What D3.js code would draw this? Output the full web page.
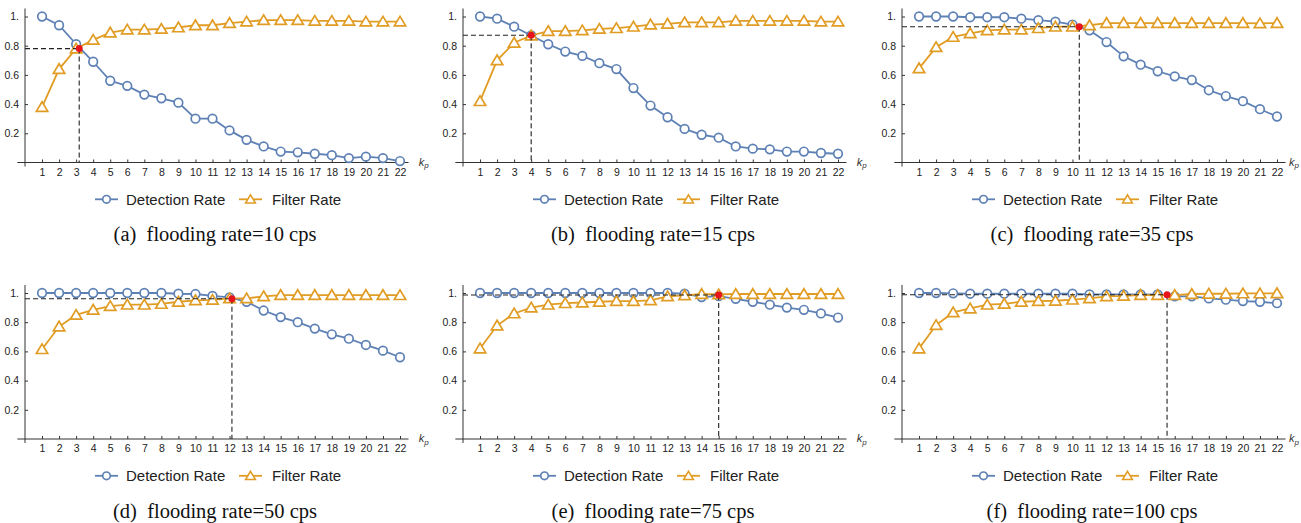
<!DOCTYPE html>
<html><head><meta charset="utf-8">
<script src="https://cdn.jsdelivr.net/npm/d3@7"></script>
<style>
body{margin:0;background:#fff;}
svg{display:block;}
</style></head>
<body>
<svg id="chart" width="1301" height="523"></svg>
<script>
const ks = d3.range(1, 23);
const yTicks = [0.2, 0.4, 0.6, 0.8, 1.0];
const panelLabels = ["a", "b", "c", "d", "e", "f"];
const floodingRates = [10, 15, 35, 50, 75, 100];
const seriesNames = ["Detection Rate", "Filter Rate"];

const detectionA = [1.0,0.94,0.81,0.69,0.56,0.525,0.465,0.44,0.41,0.30,0.30,0.22,0.155,0.11,0.075,0.07,0.06,0.05,0.03,0.04,0.03,0.01];
const filterA    = [0.38,0.64,0.78,0.84,0.89,0.91,0.91,0.915,0.925,0.94,0.94,0.955,0.965,0.975,0.975,0.975,0.97,0.97,0.97,0.965,0.965,0.965];
const detectionB = [1.0,0.985,0.93,0.87,0.81,0.76,0.73,0.68,0.64,0.51,0.39,0.31,0.23,0.19,0.17,0.11,0.095,0.09,0.075,0.075,0.065,0.06];
const filterB    = [0.42,0.70,0.82,0.87,0.90,0.90,0.905,0.915,0.92,0.93,0.945,0.95,0.96,0.96,0.96,0.97,0.97,0.97,0.97,0.97,0.965,0.965];
const detectionC = [1.0,1.0,1.0,0.995,0.995,0.995,0.985,0.975,0.965,0.945,0.905,0.825,0.727,0.67,0.625,0.59,0.565,0.495,0.455,0.42,0.365,0.315];
const filterC    = [0.645,0.79,0.86,0.885,0.905,0.91,0.91,0.92,0.93,0.93,0.94,0.955,0.955,0.955,0.955,0.955,0.955,0.955,0.955,0.955,0.953,0.955];
const detectionD = [1.0,1.0,1.0,1.0,1.0,1.0,1.0,1.0,0.995,0.993,0.98,0.97,0.94,0.88,0.835,0.80,0.756,0.717,0.687,0.644,0.605,0.56];
const filterD    = [0.615,0.77,0.85,0.885,0.91,0.92,0.92,0.925,0.94,0.95,0.953,0.963,0.963,0.977,0.986,0.986,0.986,0.986,0.986,0.986,0.986,0.985];
const detectionE = [1.0,1.0,1.0,1.0,1.0,1.0,1.0,1.0,1.0,1.0,1.0,1.0,0.995,0.972,0.978,0.96,0.94,0.92,0.90,0.885,0.86,0.832];
const filterE    = [0.62,0.777,0.86,0.90,0.92,0.93,0.935,0.94,0.945,0.945,0.95,0.977,0.984,0.993,0.99,0.993,0.993,0.993,0.993,0.993,0.993,0.993];
const detectionF = [1.0,1.0,0.998,0.995,0.995,0.995,0.995,0.995,0.995,0.995,0.99,0.99,0.99,0.99,0.99,0.977,0.977,0.963,0.954,0.945,0.94,0.93];
const filterF    = [0.62,0.78,0.867,0.894,0.92,0.926,0.94,0.945,0.947,0.954,0.963,0.977,0.98,0.986,0.986,0.986,0.993,0.995,0.995,0.997,0.997,0.998];
const crossK     = [3.18, 4.0, 10.4, 12.14, 15.0, 15.55];
const crossRate  = [0.78, 0.872, 0.93, 0.961, 0.986, 0.988];

const detections = [detectionA, detectionB, detectionC, detectionD, detectionE, detectionF];
const filters = [filterA, filterB, filterC, filterD, filterE, filterF];

const blue = "#5E81B5", orange = "#E19C24";
const W = 1301;
const svg = d3.select("#chart");
const colOffsets = [0, 438, 877];
const rowOffsets = [0, 276.5];

const x = d3.scaleLinear().domain([0, 22]).range([25, 400]);
const y = d3.scaleLinear().domain([0, 1]).range([162.5, 16.5]);

const tri = "M0,-5.3L5.7,4.3L-5.7,4.3Z";
const sans = "Liberation Sans, Arial, sans-serif";

panelLabels.forEach((lab, i) => {
  const ox = colOffsets[i % 3];
  const g = svg.append("g")
    .attr("transform", `translate(${ox},${rowOffsets[Math.floor(i / 3)]})`);

  // axes
  const xAxis = d3.axisBottom(x).tickValues(ks).tickSizeInner(-3).tickSizeOuter(0).tickPadding(6);
  const gx = g.append("g").attr("transform", `translate(0,${y(0)})`).call(xAxis);
  gx.select(".domain").remove();
  gx.selectAll("text").attr("font-family", sans).attr("font-size", 10.5).attr("fill", "#222");
  gx.selectAll("line").attr("stroke", "#333");
  const yAxis = d3.axisLeft(y).tickValues(yTicks).tickSizeInner(-3).tickSizeOuter(0).tickPadding(6)
    .tickFormat(d => d === 1 ? "1." : d3.format(".1f")(d));
  const gy = g.append("g").attr("transform", `translate(${x(0)},0)`).call(yAxis);
  gy.select(".domain").remove();
  gy.selectAll("text").attr("font-family", sans).attr("font-size", 10.5).attr("fill", "#222");
  gy.selectAll("line").attr("stroke", "#333");

  g.append("line").attr("x1", x(-0.45)).attr("x2", x(22.5)).attr("y1", y(0)).attr("y2", y(0))
    .attr("stroke", "#333").attr("stroke-width", 1);
  g.append("line").attr("x1", x(0)).attr("x2", x(0)).attr("y1", y(1.055)).attr("y2", y(0) + 4)
    .attr("stroke", "#333").attr("stroke-width", 1);

  const kx = Math.min(x(23.1), W - 12 - ox);
  const kl = g.append("text").attr("x", kx).attr("y", y(0) + 3)
    .attr("font-family", sans).attr("font-size", 11).attr("fill", "#333")
    .attr("font-style", "italic");
  kl.append("tspan").text("k");
  kl.append("tspan").attr("font-size", 8).attr("dy", 2.5).text("p");

  const line = d3.line().x((d, j) => x(ks[j])).y(d => y(d));

  // detection
  g.append("path").datum(detections[i]).attr("d", line).attr("fill", "none")
    .attr("stroke", blue).attr("stroke-width", 1.8);
  g.selectAll(".c").data(detections[i]).join("circle").attr("class", "c")
    .attr("cx", (d, j) => x(ks[j])).attr("cy", d => y(d)).attr("r", 4.3)
    .attr("fill", "#fff").attr("stroke", blue).attr("stroke-width", 1.7);

  // filter
  g.append("path").datum(filters[i]).attr("d", line).attr("fill", "none")
    .attr("stroke", orange).attr("stroke-width", 1.8);
  g.selectAll(".t").data(filters[i]).join("path").attr("class", "t")
    .attr("transform", (d, j) => `translate(${x(ks[j])},${y(d)})`).attr("d", tri)
    .attr("fill", "#fff").attr("stroke", orange).attr("stroke-width", 1.7);

  // dashed guides
  g.append("line").attr("x1", x(0)).attr("x2", x(crossK[i])).attr("y1", y(crossRate[i])).attr("y2", y(crossRate[i]))
    .attr("stroke", "#222").attr("stroke-width", 1.1).attr("stroke-dasharray", "5,3");
  g.append("line").attr("x1", x(crossK[i])).attr("x2", x(crossK[i])).attr("y1", y(crossRate[i])).attr("y2", y(0))
    .attr("stroke", "#222").attr("stroke-width", 1.1).attr("stroke-dasharray", "5,3");
  g.append("circle").attr("cx", x(crossK[i])).attr("cy", y(crossRate[i])).attr("r", 3.5).attr("fill", "#E8141B");

  // legend
  const ly = 199.3;
  const lg = g.append("g");
  lg.append("line").attr("x1", 95).attr("x2", 118).attr("y1", ly).attr("y2", ly).attr("stroke", blue).attr("stroke-width", 1.8);
  lg.append("circle").attr("cx", 106.5).attr("cy", ly).attr("r", 3.8).attr("fill", "#fff").attr("stroke", blue).attr("stroke-width", 1.7);
  lg.append("text").attr("x", 126).attr("y", ly + 5.3).text(seriesNames[0])
    .attr("font-family", sans).attr("font-size", 15).attr("fill", "#222");
  lg.append("line").attr("x1", 239).attr("x2", 262).attr("y1", ly).attr("y2", ly).attr("stroke", orange).attr("stroke-width", 1.8);
  lg.append("path").attr("transform", `translate(250.5,${ly})scale(0.85)`).attr("d", tri)
    .attr("fill", "#fff").attr("stroke", orange).attr("stroke-width", 1.9);
  lg.append("text").attr("x", 272).attr("y", ly + 5.3).text(seriesNames[1])
    .attr("font-family", sans).attr("font-size", 15).attr("fill", "#222");

  // caption
  g.append("text").attr("x", 215).attr("y", 241).attr("text-anchor", "middle")
    .attr("font-family", "Liberation Serif, Times New Roman, serif").attr("font-size", 20.5).attr("fill", "#111")
    .attr("xml:space", "preserve")
    .text(`(${lab})  flooding rate=${floodingRates[i]} cps`);
});
</script>
</body></html>
